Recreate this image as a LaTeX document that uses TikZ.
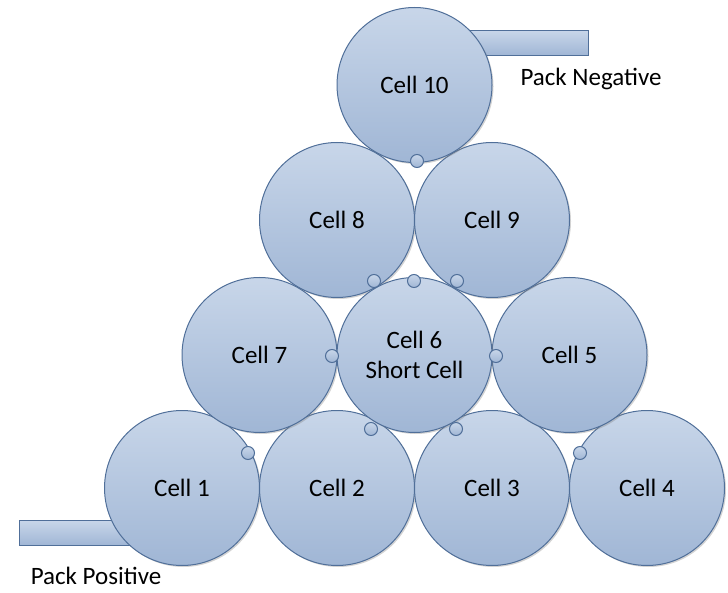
\documentclass[tikz,border=0pt]{standalone}
\usepackage{fontspec}
\setmainfont{Carlito}
\usetikzlibrary{shadows}
\definecolor{celltop}{RGB}{200,214,233}
\definecolor{cellbot}{RGB}{160,182,213}
\definecolor{celledge}{RGB}{80,111,153}
\tikzset{
  cell/.style={circle, draw=celledge, line width=1pt, top color=celltop, bottom color=cellbot,
    minimum size=155pt, inner sep=0pt, align=center, font=\fontsize{25}{30}\selectfont,
    drop shadow={shadow xshift=1.5pt, shadow yshift=-1.5pt, opacity=0.35}},
  term/.style={circle, draw=celledge, line width=1pt, top color=celltop, bottom color=cellbot,
    minimum size=13pt, inner sep=0pt},
  tab/.style={rectangle, draw=celledge, line width=1pt, top color=celltop, bottom color=cellbot,
    minimum height=25pt, inner sep=0pt, anchor=north west},
  packlabel/.style={font=\fontsize{25}{30}\selectfont}
}
\begin{document}
\begin{tikzpicture}[x=1pt,y=-1pt]
\useasboundingbox (0,0) rectangle (728,593);
%% tabs
\node[tab, minimum width=120pt] (tabneg) at (468,30) {};
\node[tab, minimum width=125pt] (tabpos) at (19,520) {};
%% cells
\foreach \n/\x/\y in {1/182/488, 2/337/488, 3/492/488, 4/647/488, 7/259.5/355, 5/569.5/355, 8/337/220, 9/492/220, 10/414.5/85}
  \node[cell] (cell\n) at (\x,\y) {Cell \n};
\node[cell] (cell6) at (414.5,355) {Cell 6\\Short Cell};
%% terminals
\foreach \i/\x/\y in {1/417/161, 2/374/281, 3/414/281, 4/457/281, 5/332/356, 6/496/356, 7/371/429, 8/456/429, 9/248/453, 10/580/453}
  \node[term] (term\i) at (\x,\y) {};
%% labels
\node[packlabel] (packneg) at (591,79) {Pack Negative};
\node[packlabel] (packpos) at (96,576) {Pack Positive};
\end{tikzpicture}
\end{document}
